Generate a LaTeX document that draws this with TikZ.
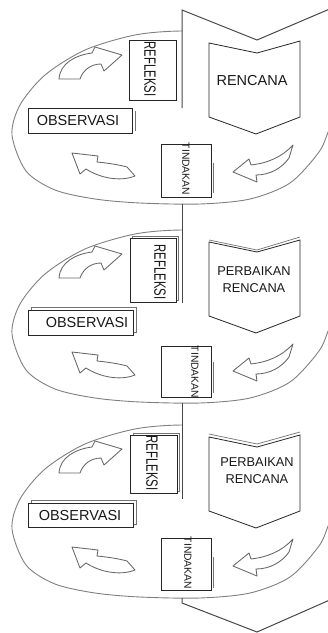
\documentclass[tikz,border=0pt]{standalone}
\usepackage{fontspec}
\setmainfont{Liberation Sans}
\newcommand\drawell{\draw[ell] plot[smooth cycle] coordinates {(12,135) (20,105) (45,75) (85,50) (135,35) (182,31) (240,34) (295,50) (330,78) (340,108) (329,130) (319,152) (290,183) (250,199) (200,204) (140,203) (95,199) (55,190) (26,171)};}
\newcommand\drawmask{\fill[maskfill] (182.6,12) -- (345,12) -- (345,118) -- (182.6,112) -- cycle;}
\newcommand\drawarrows{%
  \draw[blockarrow] (59,79) .. controls (60,63) and (76,55) .. (92,53) -- (95,47) -- (122,55) -- (104,71) -- (101,64) .. controls (91,64) and (83,70) .. (80,79) -- cycle;
  \draw[blockarrow] (72,153) -- (98,156) -- (97,162) .. controls (108,163) and (120,165) .. (127,167) -- (135,176) .. controls (120,182) and (100,178) .. (86,169) -- (80,174) -- cycle;
  \draw[blockarrow] (233,172) -- (249,159) -- (251,165) .. controls (268,163) and (282,157) .. (293,145) -- (289,158) .. controls (282,168) and (270,175) .. (256,175) -- (257,182) -- cycle;}
\newcommand\drawchev{\draw[chev] (209,43) -- (257,53) -- (300,41) -- (300,117) -- (256,134) -- (209,117) -- cycle;}
\newcommand\tallref{\scalebox{1}[1.45]{REFLEKSI}}
\begin{document}
\begin{tikzpicture}[x=1pt,y=-1pt,
  ell/.style={draw=black!50, line width=0.9pt},
  maskfill/.style={fill=white, draw=none},
  vline/.style={draw=black!72, line width=1pt, line join=miter},
  box/.style={draw=black!85, fill=white, line width=0.8pt, inner sep=0pt, anchor=north west},
  shadowbox/.style={draw=black!55, line width=0.7pt},
  blockarrow/.style={draw=black!60, fill=white, line width=0.85pt, line join=round},
  chev/.style={draw=black!85, fill=white, line width=0.8pt},
  lbl/.style={inner sep=0pt, text=black!90},
  big/.style={font=\fontsize{14.5}{17}\selectfont},
  mid/.style={font=\fontsize{12.8}{17}\selectfont, align=center},
  vref/.style={font=\fontsize{11.3}{13}\selectfont, rotate=-90},
  vtin/.style={font=\fontsize{10.3}{12}\selectfont, rotate=-90},
]
\useasboundingbox (0,0) rectangle (328,633);
\clip (0,0) rectangle (328,633);
\fill[white] (0,0) rectangle (328,633);

% ellipses with hidden upper-right parts
\drawell \drawmask
\begin{scope}[shift={(0,199)}] \drawell \drawmask \end{scope}
\begin{scope}[shift={(0,394)}] \drawell \drawmask \end{scope}

% big arrow band
\coordinate (t0) at (182,10);
\coordinate (t1) at (257,40);
\coordinate (t2) at (332,8);
\coordinate (a1) at (182,108);
\coordinate (b0) at (182,204);
\coordinate (b1) at (182,303);
\coordinate (c0) at (182,403);
\coordinate (c1) at (182,499);
\coordinate (d0) at (182,598);
\coordinate (d1) at (182,603);
\coordinate (d2) at (257,632);
\coordinate (d3) at (332,599);
\draw[vline] (t2) -- (t1) -- (t0) -- (a1);
\draw[vline] (b0) -- (b1);
\draw[vline] (c0) -- (c1);
\draw[vline] (d0) -- (d1) -- (d2) -- (d3);

% ---------- cycle 1 ----------
\drawchev
\node[lbl, big] (ren1) at (252,81) {RENCANA};
\node[box, minimum width=47pt, minimum height=60pt] (refbox1) at (129,40) {};
\node[lbl, vref] (ref1) at (150,69) {\tallref};
\draw[shadowbox] (135,111) -- (135,131);
\node[box, minimum width=104pt, minimum height=25pt] (obsbox1) at (28,108) {};
\node[lbl, big] (obs1) at (78,121) {OBSERVASI};
\draw[shadowbox] (213,163) -- (213,193);
\node[box, minimum width=50pt, minimum height=53pt] (tinbox1) at (161,144) {};
\node[lbl, vtin] (tin1) at (186,169) {TINDAKAN};
\drawarrows

% ---------- cycle 2 ----------
\begin{scope}[shift={(0,199)}]
  \draw[shadowbox] (209,41) -- (257,51) -- (300,38);
  \drawchev
  \drawarrows
\end{scope}
\node[lbl, mid] (ren2) at (254,280) {PERBAIKAN\\RENCANA};
\draw[shadowbox] (132,236) rectangle (178,300);
\node[box, minimum width=46pt, minimum height=64pt] (refbox2) at (130,238) {};
\node[lbl, vref] (ref2) at (160,272) {\tallref};
\draw[shadowbox] (31,307) rectangle (136,332);
\node[box, minimum width=105pt, minimum height=25pt] (obsbox2) at (28,310) {};
\node[lbl, big] (obs2) at (87,323) {OBSERVASI};
\draw[shadowbox] (213,362) -- (213,393);
\node[box, minimum width=50pt, minimum height=51pt] (tinbox2) at (161,346) {};
\node[lbl, vtin] (tin2) at (195,372) {TINDAKAN};

% ---------- cycle 3 ----------
\begin{scope}[shift={(0,394)}]
  \draw[shadowbox] (209,40) -- (257,50) -- (300,38);
  \drawchev
  \drawarrows
\end{scope}
\node[lbl, mid] (ren3) at (257,471) {PERBAIKAN\\RENCANA};
\draw[shadowbox] (133,433) rectangle (179,491);
\node[box, minimum width=47pt, minimum height=58pt] (refbox3) at (130,435) {};
\node[lbl, vref] (ref3) at (152,463) {\tallref};
\draw[shadowbox] (31,500) rectangle (136,524);
\node[box, minimum width=105pt, minimum height=24pt] (obsbox3) at (28,503) {};
\node[lbl, big] (obs3) at (80,516) {OBSERVASI};
\draw[shadowbox] (213,557) -- (213,588);
\node[box, minimum width=50pt, minimum height=52pt] (tinbox3) at (161,538) {};
\node[lbl, vtin] (tin3) at (188,563) {TINDAKAN};
\end{tikzpicture}
\end{document}
